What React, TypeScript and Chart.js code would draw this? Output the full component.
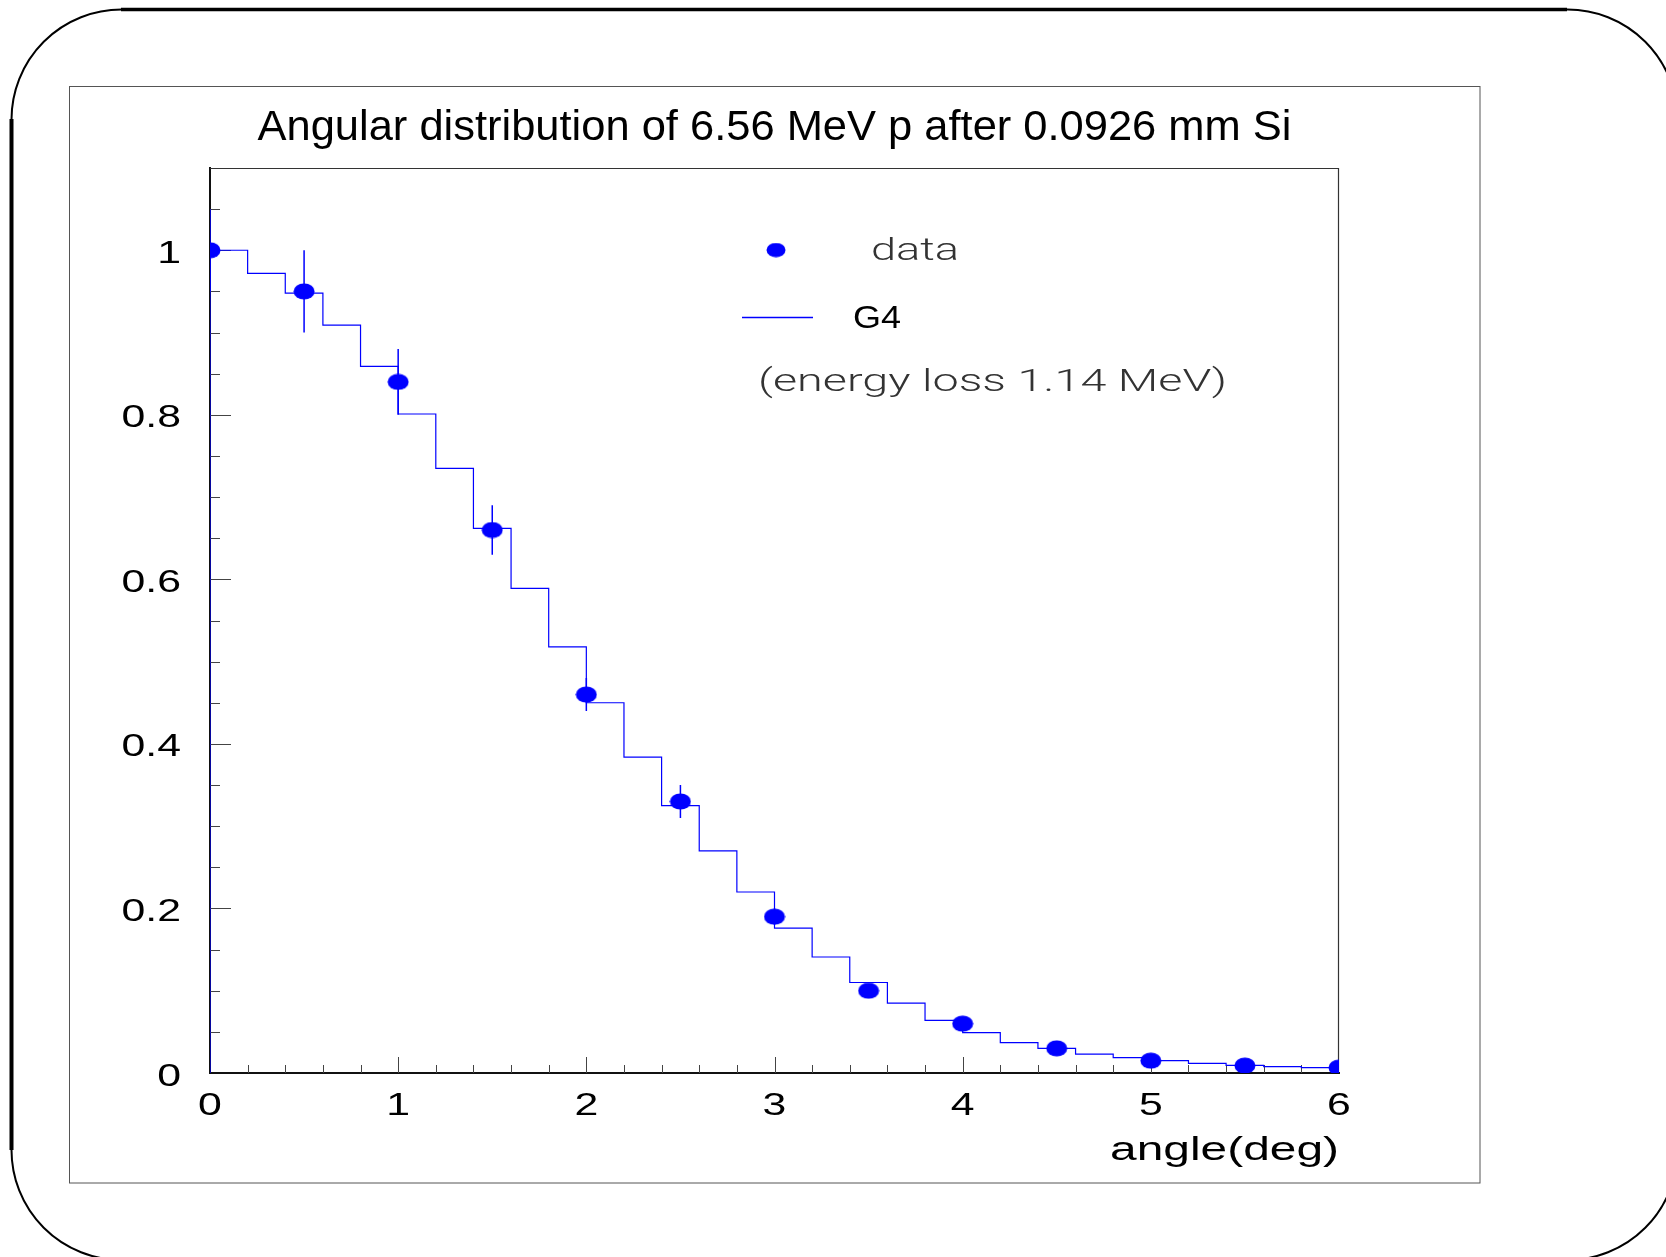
import React, { useEffect, useRef } from 'react';
import { Chart, registerables } from 'chart.js';

Chart.register(...registerables);

// ---------------- data ----------------
const titleText = 'Angular distribution of 6.56 MeV p after 0.0926 mm Si';
const xAxisTitle = 'angle(deg)';
const legendDataLabel = 'data';
const legendG4Label = 'G4';
const legendNote = '(energy loss 1.14 MeV)';

const xTickValues = [0, 1, 2, 3, 4, 5, 6];
const xTickLabels = ['0', '1', '2', '3', '4', '5', '6'];
const yTickValues = [0, 0.2, 0.4, 0.6, 0.8, 1.0];
const yTickLabels = ['0', '0.2', '0.4', '0.6', '0.8', '1'];

// G4 histogram: lower bin edges and contents
const g4BinLow = [
  0.0, 0.2, 0.4, 0.6, 0.8, 1.0, 1.2, 1.4, 1.6, 1.8,
  2.0, 2.2, 2.4, 2.6, 2.8, 3.0, 3.2, 3.4, 3.6, 3.8,
  4.0, 4.2, 4.4, 4.6, 4.8, 5.0, 5.2, 5.4, 5.6, 5.8,
];
const g4LastEdge = 6.0;
const g4Values = [
  1.0, 0.972, 0.948, 0.909, 0.859, 0.801, 0.735, 0.662, 0.589, 0.518,
  0.45, 0.384, 0.325, 0.27, 0.22, 0.176, 0.141, 0.11, 0.085, 0.064,
  0.049, 0.037, 0.03, 0.023, 0.0186, 0.015, 0.0118, 0.0093, 0.0077, 0.0065,
];

// measured data points with errors
const dataX = [0, 0.5, 1.0, 1.5, 2.0, 2.5, 3.0, 3.5, 4.0, 4.5, 5.0, 5.5, 6.0];
const dataY = [1.0, 0.95, 0.84, 0.66, 0.46, 0.33, 0.19, 0.1, 0.06, 0.03, 0.015, 0.009, 0.0065];
const dataErr = [0.05, 0.05, 0.04, 0.03, 0.02, 0.02, 0.01, 0.005, 0.004, 0.003, 0.002, 0.002, 0.001];

// ---------------- style ----------------
const FONT = '"Liberation Sans", Arial, Helvetica, sans-serif';
const THIN_FONT = '"DejaVu Sans ExtraLight", "Roboto Light", "Lato Light", "Lato Hairline", Roboto, Lato, sans-serif';
const BLUE = '#0000ff';
const TICK_STRETCH = 1.38;
const TICK_DY = 4;
const textTargetWidths: Record<string, number> = {
  [titleText]: 1034,
  [xAxisTitle]: 229,
  [legendDataLabel]: 88,
  [legendG4Label]: 48,
  [legendNote]: 469,
};

export default function App() {
  const ref = useRef<HTMLCanvasElement | null>(null);

  useEffect(() => {
    const canvas = ref.current;
    if (!canvas) return;
    document.body.style.margin = '0';
    document.body.style.overflow = 'hidden';
    const ctx = canvas.getContext('2d') as CanvasRenderingContext2D;

    // horizontally stretched text (the original uses a wide font)
    const origFill = ctx.fillText;
    (ctx as any).fillText = function (text: any, x: number, y: number) {
      const s = String(text);
      const target = textTargetWidths[s];
      let sx = TICK_STRETCH;
      let dy = TICK_DY;
      if (target) {
        const w = ctx.measureText(s).width;
        sx = w > 0 ? target / w : 1;
        dy = 0;
      }
      ctx.save();
      ctx.translate(x, y + dy);
      ctx.scale(sx, 1);
      origFill.call(ctx, s, 0, 0);
      ctx.restore();
    };

    // elliptical marker
    const marker = document.createElement('canvas');
    marker.width = 22;
    marker.height = 17;
    const mctx = marker.getContext('2d') as CanvasRenderingContext2D;
    mctx.fillStyle = BLUE;
    mctx.beginPath();
    mctx.ellipse(11, 8.5, 10.5, 8, 0, 0, Math.PI * 2);
    mctx.fill();

    const g4Points = [
      { x: g4BinLow[0], y: 0 },
      ...g4BinLow.map((x, i) => ({ x, y: g4Values[i] })),
      { x: g4LastEdge, y: g4Values[g4Values.length - 1] },
      { x: g4LastEdge, y: 0 },
    ];
    const dataPoints = dataX.map((x, i) => ({ x, y: dataY[i] }));

    const decor = {
      id: 'decor',
      beforeDraw(chart: any) {
        const c = chart.ctx as CanvasRenderingContext2D;
        c.save();
        c.fillStyle = '#ffffff';
        c.fillRect(0, 0, chart.width, chart.height);
        // outer rounded frame
        c.strokeStyle = '#000';
        c.lineWidth = 2;
        c.beginPath();
        (c as any).roundRect(11.5, 9.5, 1666, 1250.5, 110);
        c.stroke();
        c.lineWidth = 3.5;
        c.beginPath();
        c.moveTo(121, 9.5);
        c.lineTo(1567, 9.5);
        c.stroke();
        c.lineWidth = 4;
        c.beginPath();
        c.moveTo(11.5, 119);
        c.lineTo(11.5, 1150);
        c.stroke();
        // pane rectangle
        c.strokeStyle = '#555';
        c.lineWidth = 1;
        c.strokeRect(69.5, 86.5, 1410.5, 1096.5);
        c.restore();
      },
      beforeDatasetsDraw(chart: any) {
        const c = chart.ctx as CanvasRenderingContext2D;
        const a = chart.chartArea;
        const xs = chart.scales.x;
        const ys = chart.scales.y;
        c.save();
        // top / right frame
        c.strokeStyle = '#333';
        c.lineWidth = 1.2;
        c.beginPath();
        c.moveTo(a.left, a.top + 0.5);
        c.lineTo(a.right - 0.5, a.top + 0.5);
        c.lineTo(a.right - 0.5, a.bottom);
        c.stroke();
        // inward tick marks
        c.strokeStyle = '#444';
        c.lineWidth = 1;
        c.beginPath();
        for (let k = 1; k <= 21; k++) {
          const v = k * 0.05;
          const isMajor = yTickValues.some((t) => Math.abs(t - v) < 1e-6);
          const py = Math.round(ys.getPixelForValue(v)) + 0.5;
          c.moveTo(a.left, py);
          c.lineTo(a.left + (isMajor ? 21 : 10), py);
        }
        for (let k = 1; k < 30; k++) {
          const v = k * 0.2;
          const isMajor = xTickValues.some((t) => Math.abs(t - v) < 1e-6);
          const px = Math.round(xs.getPixelForValue(v)) + 0.5;
          c.moveTo(px, a.bottom);
          c.lineTo(px, a.bottom - (isMajor ? 16 : 8));
        }
        c.stroke();
        // error bars
        c.beginPath();
        c.rect(a.left, a.top, a.right - a.left, a.bottom - a.top);
        c.clip();
        c.strokeStyle = BLUE;
        c.lineWidth = 1.5;
        c.beginPath();
        dataX.forEach((x, i) => {
          const px = xs.getPixelForValue(x);
          c.moveTo(px, ys.getPixelForValue(dataY[i] - dataErr[i]));
          c.lineTo(px, ys.getPixelForValue(dataY[i] + dataErr[i]));
        });
        c.stroke();
        c.restore();
      },
      afterDraw(chart: any) {
        const c = chart.ctx as CanvasRenderingContext2D;
        c.save();
        // legend
        c.drawImage(marker, 776 - 10, 250 - 7.5, 20, 15);
        c.fillStyle = '#333';
        c.textAlign = 'left';
        c.textBaseline = 'middle';
        c.font = '200 31px ' + THIN_FONT;
        c.fillText(legendDataLabel, 871, 251);
        c.strokeStyle = BLUE;
        c.lineWidth = 1.3;
        c.beginPath();
        c.moveTo(742, 317.5);
        c.lineTo(813, 317.5);
        c.stroke();
        c.fillStyle = '#000';
        c.font = 'normal 31px ' + FONT;
        c.fillText(legendG4Label, 853, 319);
        c.fillStyle = '#333';
        c.font = '200 31px ' + THIN_FONT;
        c.fillText(legendNote, 758, 382);
        c.restore();
      },
    };

    const chart = new Chart(ctx, {
      type: 'scatter',
      data: {
        datasets: [
          {
            type: 'line',
            label: 'G4',
            data: g4Points,
            stepped: true,
            borderColor: BLUE,
            borderWidth: 1.2,
            pointRadius: 0,
            fill: false,
            order: 2,
          } as any,
          {
            type: 'scatter',
            label: 'data',
            data: dataPoints,
            pointStyle: marker,
            pointRadius: 10,
            backgroundColor: BLUE,
            borderWidth: 0,
            clip: 0,
            order: 1,
          } as any,
        ],
      },
      options: {
        responsive: false,
        animation: false,
        events: [],
        layout: { padding: { left: 0, right: 327, top: 0, bottom: 84 } },
        plugins: {
          legend: { display: false },
          tooltip: { enabled: false },
          title: {
            display: true,
            text: titleText,
            fullSize: false,
            color: '#000',
            font: { family: FONT, size: 42, weight: 'normal' },
            padding: { top: 103, bottom: 14.6 },
          },
        },
        scales: {
          x: {
            type: 'linear',
            position: 'bottom',
            min: 0,
            max: 6,
            afterBuildTicks: (s: any) => {
              s.ticks = xTickValues.map((v) => ({ value: v }));
            },
            afterFit: (s: any) => {
              s.height = 100;
            },
            grid: { display: false, drawTicks: false },
            border: { display: true, color: '#111', width: 2 },
            ticks: {
              callback: (_v: any, i: number) => xTickLabels[i],
              color: '#000',
              font: { family: FONT, size: 31 },
              padding: 11,
              maxRotation: 0,
              autoSkip: false,
            },
            title: {
              display: true,
              text: xAxisTitle,
              align: 'end',
              color: '#000',
              font: { family: FONT, size: 34 },
              padding: { top: 0, bottom: 2 },
            },
          },
          y: {
            type: 'linear',
            position: 'left',
            min: 0,
            max: 1.1,
            afterBuildTicks: (s: any) => {
              s.ticks = yTickValues.map((v) => ({ value: v }));
            },
            afterFit: (s: any) => {
              s.width = 210;
            },
            grid: { display: false, drawTicks: false },
            border: { display: true, color: '#111', width: 2 },
            ticks: {
              callback: (_v: any, i: number) => yTickLabels[i],
              color: '#000',
              font: { family: FONT, size: 31 },
              padding: 29,
              autoSkip: false,
            },
          },
        },
      } as any,
      plugins: [decor],
    });

    return () => {
      chart.destroy();
      (ctx as any).fillText = origFill;
    };
  }, []);

  return (
    <canvas
      ref={ref}
      width={1666}
      height={1257}
      style={{ position: 'absolute', left: 0, top: 0, width: 1666, height: 1257 }}
    />
  );
}
